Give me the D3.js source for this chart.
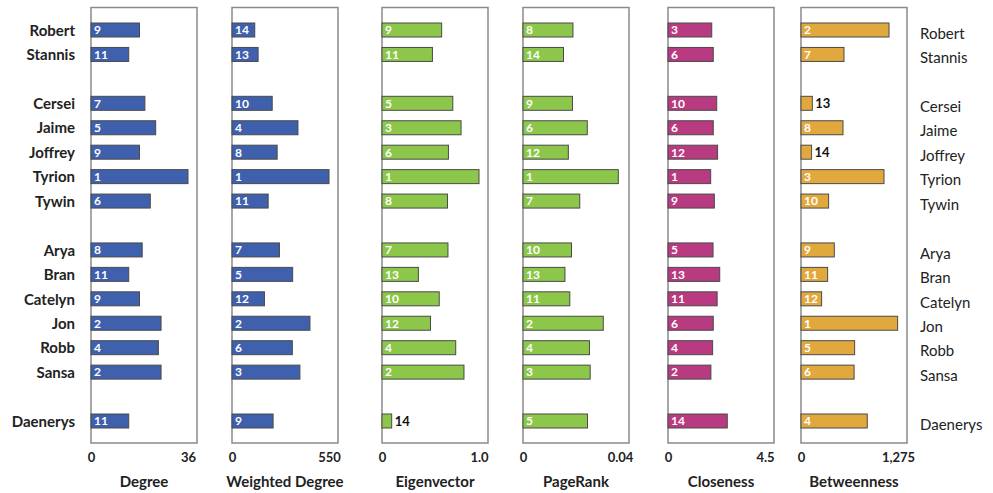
<!DOCTYPE html>
<html>
<head>
<meta charset="utf-8">
<script src="https://cdn.jsdelivr.net/npm/d3@7"></script>
<style>
  body { margin: 0; background: #fff; }
  svg { display: block; font-family: Lato, 'Open Sans', sans-serif; }
</style>
</head>
<body>
<div id="chart"></div>
<script>
const characters = ['Robert', 'Stannis', 'Cersei', 'Jaime', 'Joffrey', 'Tyrion', 'Tywin',
  'Arya', 'Bran', 'Catelyn', 'Jon', 'Robb', 'Sansa', 'Daenerys'];
const houses = ['Baratheon', 'Baratheon', 'Lannister', 'Lannister', 'Lannister', 'Lannister', 'Lannister',
  'Stark', 'Stark', 'Stark', 'Stark', 'Stark', 'Stark', 'Targaryen'];

const degree = [18, 14, 20, 24, 18, 36, 22, 19, 14, 18, 26, 25, 26, 14];
const degreeRank = [9, 11, 7, 5, 9, 1, 6, 8, 11, 9, 2, 4, 2, 11];

const weightedDegree = [129, 148, 228, 374, 256, 550, 205, 269, 344, 184, 442, 342, 385, 233];
const weightedDegreeRank = [14, 13, 10, 4, 8, 1, 11, 7, 5, 12, 2, 6, 3, 9];

const eigenvector = [0.615, 0.52, 0.73, 0.815, 0.685, 1.0, 0.675, 0.68, 0.375, 0.59, 0.5, 0.76, 0.845, 0.1];
const eigenvectorRank = [9, 11, 5, 3, 6, 1, 8, 7, 13, 10, 12, 4, 2, 14];

const pageRank = [0.0206, 0.0167, 0.0204, 0.0265, 0.0187, 0.0393, 0.0234, 0.0200, 0.0173, 0.0193, 0.0331, 0.0274, 0.0277, 0.0266];
const pageRankRank = [8, 14, 9, 6, 12, 1, 7, 10, 13, 11, 2, 4, 3, 5];

const closeness = [2.03, 2.10, 2.26, 2.10, 2.30, 1.98, 2.15, 2.09, 2.40, 2.28, 2.10, 2.07, 1.99, 2.75];
const closenessRank = [3, 6, 10, 6, 12, 1, 9, 5, 13, 11, 6, 4, 2, 14];

const betweenness = [1157, 565, 149, 552, 139, 1091, 363, 438, 350, 271, 1270, 705, 698, 871];
const betweennessRank = [2, 7, 13, 8, 14, 3, 10, 9, 11, 12, 1, 5, 6, 4];

const metricNames = ['Degree', 'Weighted Degree', 'Eigenvector', 'PageRank', 'Closeness', 'Betweenness'];
const metricMax = [36, 550, 1.0, 0.04, 4.5, 1275];
const metricMaxLabel = ['36', '550', '1.0', '0.04', '4.5', '1,275'];
const metricColors = ['#3f60ad', '#3f60ad', '#8cc64b', '#8cc64b', '#b83a80', '#e1a83e'];

const metricValues = [degree, weightedDegree, eigenvector, pageRank, closeness, betweenness];
const metricRanks = [degreeRank, weightedDegreeRank, eigenvectorRank, pageRankRank, closenessRank, betweennessRank];

// layout
const width = 993;
const height = 493;
const panelLefts = [91, 232, 382, 523, 668, 801];
const boxWidth = 106;
const scaleWidth = 97;
const boxTop = 7.5;
const boxBottom = 443;
const barHeight = 14;

// slots, with an empty slot between houses
let slots = [];
characters.forEach((c, i) => {
  if (i > 0 && houses[i] !== houses[i - 1]) slots.push('gap' + i);
  slots.push(c);
});

const yScale = d3.scalePoint().domain(slots).range([30, 421]);

const svg = d3
  .select('#chart')
  .append('svg')
  .attr('width', width)
  .attr('height', height)
  .attr('viewBox', `0 0 ${width} ${height}`);

// character labels, left and right
svg
  .append('g')
  .selectAll('text')
  .data(characters)
  .join('text')
  .attr('x', 75)
  .attr('y', (d) => yScale(d))
  .attr('dy', '0.38em')
  .attr('text-anchor', 'end')
  .attr('font-size', 15)
  .attr('font-weight', 'bold')
  .attr('fill', '#222')
  .text((d) => d);

svg
  .append('g')
  .selectAll('text')
  .data(characters)
  .join('text')
  .attr('x', 920)
  .attr('y', (d) => yScale(d) + 3)
  .attr('dy', '0.38em')
  .attr('font-size', 15)
  .attr('fill', '#222')
  .text((d) => d);

metricNames.forEach((name, m) => {
  const left = panelLefts[m];
  const xScale = d3.scaleLinear().domain([0, metricMax[m]]).range([0, scaleWidth]);
  const g = svg.append('g').attr('transform', `translate(${left}, 0)`);

  g.append('rect')
    .attr('x', 0)
    .attr('y', boxTop)
    .attr('width', boxWidth)
    .attr('height', boxBottom - boxTop)
    .attr('fill', 'none')
    .attr('stroke', '#8a8a8a')
    .attr('stroke-width', 1.5);

  const rows = characters.map((c, i) => ({
    name: c,
    value: metricValues[m][i],
    rank: metricRanks[m][i],
  }));

  g.append('g')
    .selectAll('rect')
    .data(rows)
    .join('rect')
    .attr('x', 0)
    .attr('y', (d) => yScale(d.name) - barHeight / 2)
    .attr('width', (d) => xScale(d.value))
    .attr('height', barHeight)
    .attr('fill', metricColors[m])
    .attr('stroke', '#4a4a4a')
    .attr('stroke-width', 1);

  g.append('g')
    .selectAll('text')
    .data(rows)
    .join('text')
    .attr('x', (d) => (xScale(d.value) < 18 ? xScale(d.value) + 3 : 3))
    .attr('y', (d) => yScale(d.name))
    .attr('dy', '0.36em')
    .attr('font-size', (d) => (xScale(d.value) < 18 ? 13 : 12))
    .attr('font-weight', 'bold')
    .attr('fill', (d) => (xScale(d.value) < 18 ? '#111' : '#fff'))
    .text((d) => d.rank);

  const axis = d3
    .axisBottom(xScale)
    .tickValues([0, metricMax[m]])
    .tickFormat((d, i) => (i === 0 ? '0' : metricMaxLabel[m]))
    .tickSize(0)
    .tickPadding(10);

  const ag = g.append('g').attr('transform', `translate(0, ${boxBottom})`).call(axis);
  ag.select('.domain').remove();
  ag.selectAll('text')
    .attr('font-family', 'Lato, sans-serif')
    .attr('font-size', 13)
    .attr('font-weight', 'bold')
    .attr('fill', '#222');

  g.append('text')
    .attr('x', boxWidth / 2)
    .attr('y', 487)
    .attr('text-anchor', 'middle')
    .attr('font-size', 15)
    .attr('font-weight', 'bold')
    .attr('fill', '#222')
    .text(name);
});
</script>
</body>
</html>
